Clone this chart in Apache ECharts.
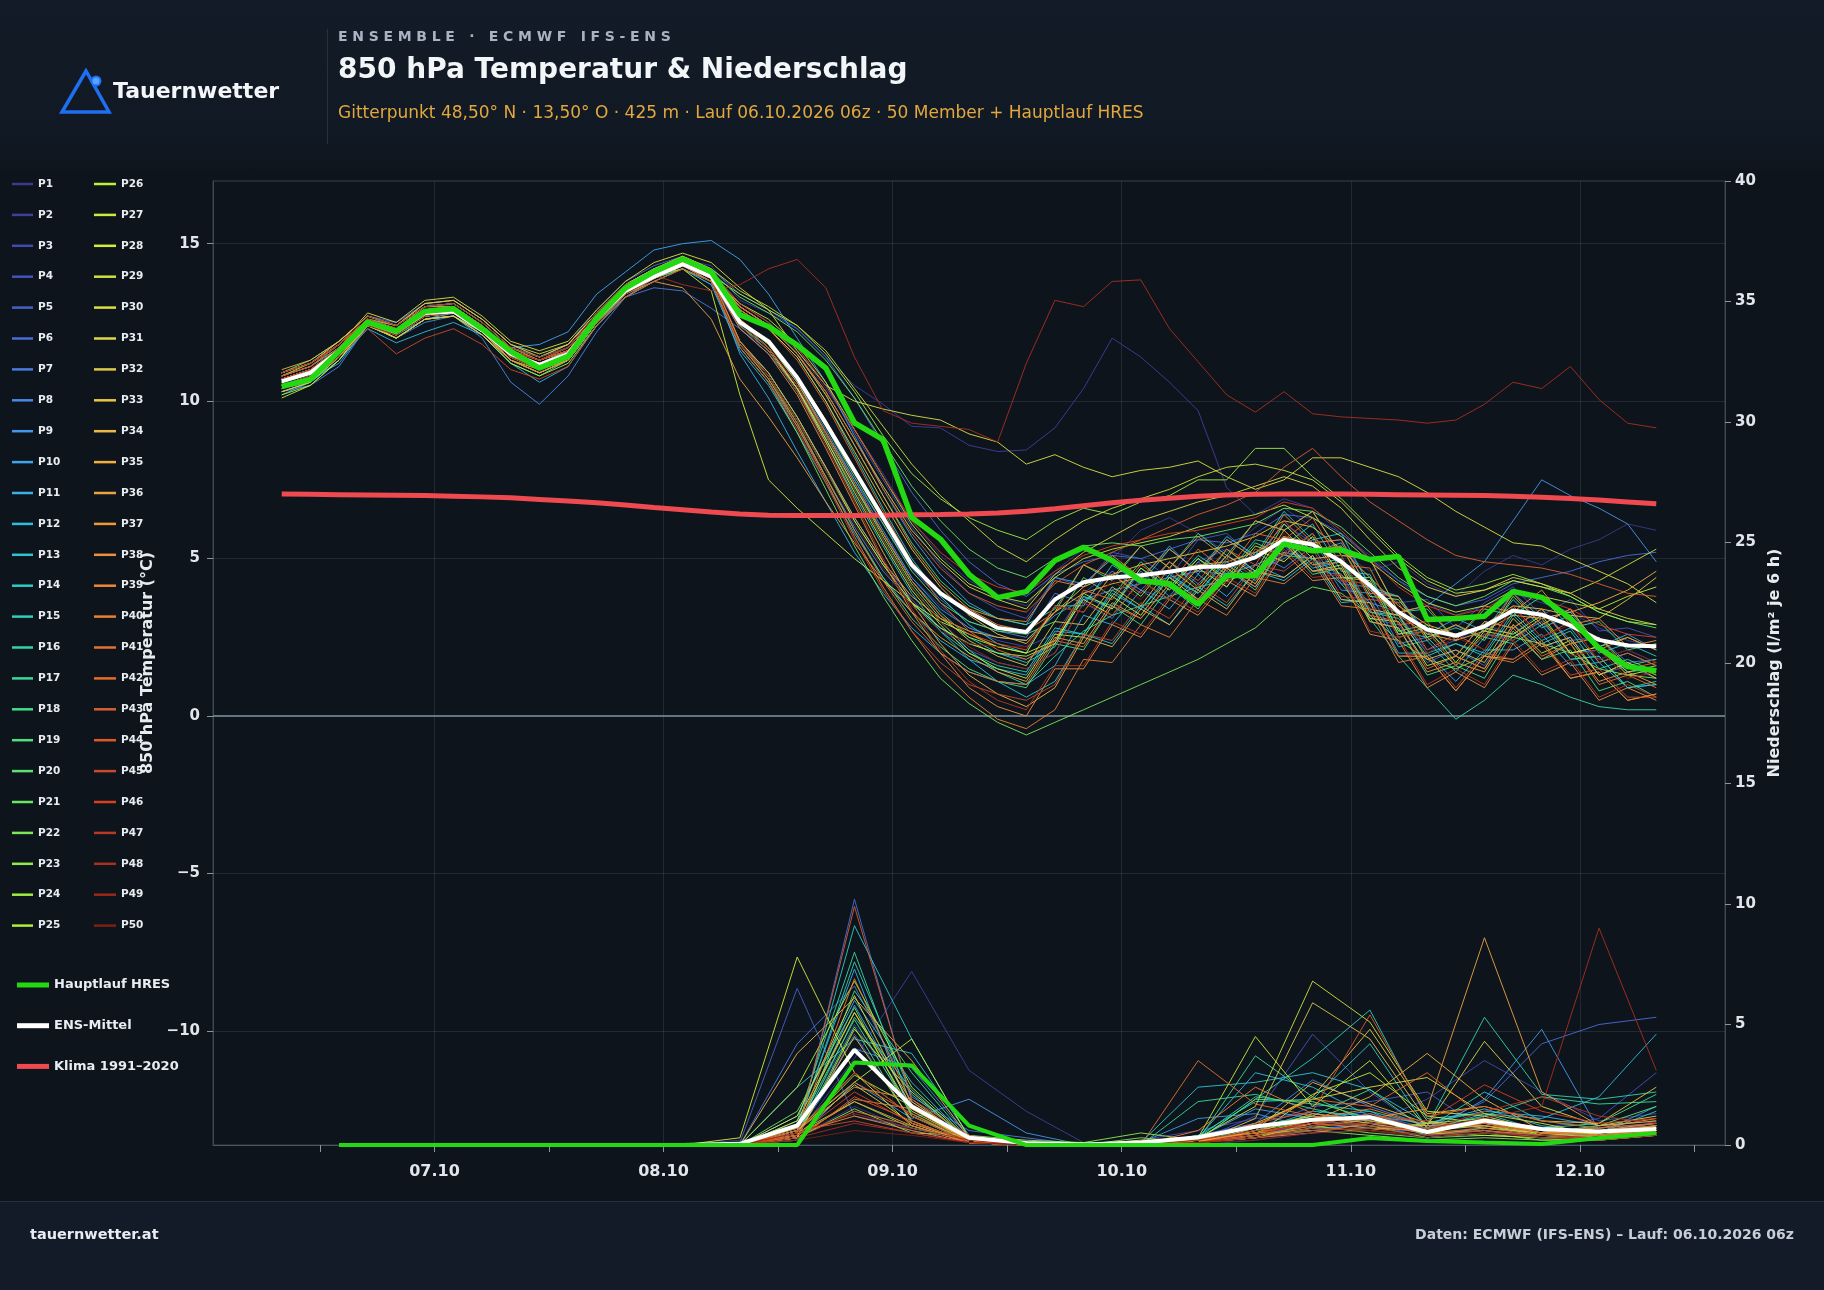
<!DOCTYPE html>
<html><head><meta charset="utf-8">
<script src="https://cdn.jsdelivr.net/npm/echarts@6/dist/echarts.min.js"></script>
<style>
html,body{margin:0;padding:0;background:#0e141b;}
#wrap{position:relative;width:1824px;height:1290px;overflow:hidden;font-family:'DejaVu Sans',sans-serif;}
.abs{position:absolute;white-space:nowrap;}
</style></head>
<body>
<div id="wrap">
  <div class="abs" style="left:0;top:0;width:1824px;height:178px;background:linear-gradient(to bottom,#121b27 0%,#111924 75%,#0e141b 100%);"></div>
  <div class="abs" style="left:0;top:1201px;width:1824px;height:89px;background:#121b27;border-top:1px solid #26313d;"></div>
  <div id="chart" class="abs" style="left:0;top:0;width:1824px;height:1290px;"></div>
  <svg class="abs" style="left:0;top:0;z-index:5" width="330" height="170">
    <polygon points="86,71 62,112 109,112" fill="none" stroke="#1f6ff2" stroke-width="3.5" stroke-linejoin="miter"/>
    <circle cx="96" cy="81" r="4.5" fill="#5aa2ff" stroke="#1f6ff2" stroke-width="2"/>
  </svg>
  <div class="abs" style="left:113px;top:78px;font-weight:bold;font-size:22px;line-height:26px;color:#f4f7fa;z-index:5">Tauernwetter</div>
  <div class="abs" style="left:327px;top:29px;width:1px;height:115px;background:#28323e;z-index:5"></div>
  <div class="abs" style="left:338px;top:27px;font-weight:bold;font-size:14px;line-height:18px;letter-spacing:4.7px;color:#a9b3c1;z-index:5">ENSEMBLE · ECMWF IFS-ENS</div>
  <div class="abs" style="left:338px;top:52px;font-weight:bold;font-size:28px;line-height:34px;color:#f3f6f9;z-index:5">850 hPa Temperatur &amp; Niederschlag</div>
  <div class="abs" style="left:338px;top:101px;font-size:17px;line-height:22px;color:#e2a83d;z-index:5">Gitterpunkt 48,50° N · 13,50° O · 425 m · Lauf 06.10.2026 06z · 50 Member + Hauptlauf HRES</div>
  <div class="abs" style="left:30px;top:1225px;font-weight:bold;font-size:14.5px;line-height:18px;color:#e9edf2;z-index:5">tauernwetter.at</div>
  <div class="abs" style="right:30px;top:1225px;font-weight:bold;font-size:14px;line-height:18px;color:#c7ced8;z-index:5">Daten: ECMWF (IFS-ENS) – Lauf: 06.10.2026 06z</div>
</div>
<script>
// ---- time axes (hours since 06.10. 00:00 local time) ----
const tempHours = [8,11,14,17,20,23,26,29,32,35,38,41,44,47,50,53,56,59,62,65,68,71,74,77,80,83,86,89,92,95,98,101,104,107,110,113,116,119,122,125,128,131,134,137,140,143,146,149,152];
const precipHours = [14,20,26,32,38,44,50,56,62,68,74,80,86,92,98,104,110,116,122,128,134,140,146,152];
const tickHours = [12,24,36,48,60,72,84,96,108,120,132,144,156];
const dayHours = [24,48,72,96,120,144];
const dayLabels = ['07.10','08.10','09.10','10.10','11.10','12.10'];
const tempTicks = [-10,-5,0,5,10,15];

// ---- key lines ----
const hresTemp = [10.47,10.69,11.58,12.51,12.22,12.85,12.93,12.30,11.58,11.05,11.42,12.64,13.59,14.11,14.51,14.11,12.74,12.37,11.78,11.05,9.31,8.78,6.31,5.62,4.50,3.76,3.95,4.94,5.36,4.94,4.30,4.20,3.55,4.46,4.46,5.47,5.25,5.28,4.97,5.07,3.07,3.10,3.17,3.96,3.77,3.10,2.16,1.57,1.44];
const meanTemp = [10.63,10.90,11.60,12.50,12.20,12.80,12.85,12.25,11.50,11.15,11.50,12.60,13.50,13.95,14.35,13.95,12.50,11.90,10.75,9.30,7.80,6.30,4.80,3.90,3.30,2.80,2.67,3.70,4.25,4.40,4.47,4.58,4.73,4.76,5.04,5.60,5.45,4.90,4.15,3.30,2.75,2.55,2.85,3.35,3.22,2.88,2.42,2.24,2.22];
const climTemp = [7.05,7.04,7.03,7.02,7.01,7.00,6.98,6.96,6.93,6.88,6.83,6.77,6.70,6.62,6.55,6.48,6.42,6.38,6.37,6.37,6.37,6.38,6.39,6.40,6.42,6.45,6.50,6.58,6.68,6.77,6.85,6.92,6.98,7.02,7.04,7.05,7.05,7.05,7.04,7.03,7.02,7.01,7.00,6.98,6.95,6.91,6.86,6.80,6.74];
const hresPrecip = [0,0,0,0,0,0,0,0,0,3.42,3.30,0.8,0,0,0,0,0,0,0.29,0.17,0.1,0.04,0.29,0.5];
const meanPrecip = [0,0,0,0,0,0,0,0.05,0.81,3.95,1.6,0.3,0.08,0.02,0.1,0.32,0.77,1.05,1.15,0.54,1.02,0.66,0.56,0.66];

// ---- ensemble members: temperature (49 steps) ----
const tempMembers = [
[10.9,11.2,11.8,12.6,12.4,13.1,13.0,12.4,11.6,11.3,11.6,12.7,13.6,14.1,14.5,14.0,13.0,12.4,11.6,10.4,9.1,7.7,6.2,5.1,4.3,3.8,3.5,4.6,5.3,5.0,5.9,6.3,5.8,5.2,6.0,6.6,6.0,5.2,4.6,4.9,4.2,3.8,4.6,5.1,4.8,5.3,5.6,6.1,5.9],
[10.8,11.1,11.7,12.6,12.5,13.0,13.1,12.5,11.7,11.3,11.7,12.8,13.7,14.2,14.5,14.3,13.2,12.8,12.3,11.4,10.5,9.9,9.2,9.15,8.6,8.4,8.45,9.15,10.4,12.0,11.4,10.6,9.7,7.25,6.4,6.9,6.6,5.8,5.1,4.3,3.6,3.2,3.5,3.9,3.6,3.3,2.8,2.4,2.2],
[10.5,10.8,11.5,12.5,12.1,12.7,12.8,12.2,11.4,11.0,11.4,12.5,13.4,13.9,14.3,13.8,12.3,11.6,10.4,8.9,7.3,5.8,4.4,3.5,2.8,2.4,2.2,2.6,3.9,4.6,4.0,3.7,4.9,5.3,4.6,5.2,5.8,4.3,3.4,3.2,2.1,2.4,2.9,2.6,3.3,2.4,1.8,2.1,1.7],
[10.7,11.0,11.7,12.6,12.3,12.9,13.0,12.4,11.6,11.2,11.6,12.7,13.6,14.1,14.4,14.1,13.1,12.5,11.7,10.5,9.0,7.5,6.0,4.8,3.9,3.4,3.1,4.4,4.1,5.2,5.0,4.4,5.6,5.8,5.0,6.1,5.5,5.6,4.2,3.6,3.7,2.8,3.6,4.1,3.2,3.7,2.7,2.8,2.5],
[10.4,10.7,11.4,12.4,12.0,12.6,12.8,12.1,11.3,10.9,11.3,12.4,13.3,13.8,14.2,13.7,11.8,10.9,9.5,7.9,6.3,4.9,3.7,2.8,2.1,1.7,1.5,2.0,3.6,3.1,4.4,4.6,3.7,4.6,4.1,5.4,4.6,4.5,3.1,2.9,1.7,2.1,1.6,2.9,2.2,2.5,1.3,1.6,1.2],
[10.9,11.2,11.9,12.7,12.5,13.1,13.2,12.6,11.8,11.4,11.8,12.9,13.8,14.3,14.6,14.2,13.4,12.9,12.3,11.4,10.1,8.6,7.1,5.9,4.9,4.2,3.8,4.5,4.9,5.1,5.0,5.3,5.6,5.5,5.8,6.4,6.3,5.8,5.0,4.3,3.8,3.5,3.7,4.2,4.4,4.6,4.9,5.1,5.2],
[10.6,10.9,11.5,12.4,12.1,12.7,12.8,12.2,11.4,11.1,11.4,12.6,13.3,13.6,13.5,12.95,12.3,11.5,10.4,9.0,7.5,6.1,4.7,3.7,3.0,2.7,2.5,3.9,3.6,4.6,4.0,4.9,4.2,5.1,4.6,5.0,5.6,4.2,4.1,2.6,2.7,1.9,3.0,2.8,3.4,2.4,2.5,1.7,1.8],
[10.3,10.5,11.1,12.4,12.0,12.5,12.7,12.0,10.6,9.9,10.8,12.2,13.3,13.9,14.3,13.8,11.7,10.6,9.2,7.6,6.0,4.6,3.6,2.8,2.3,2.0,1.8,2.3,3.8,3.4,4.6,3.8,4.9,4.1,5.2,4.7,5.4,4.0,3.9,2.3,2.5,1.6,2.6,2.5,3.0,2.0,2.1,1.4,1.5],
[10.8,11.1,11.8,12.6,12.3,12.9,13.0,12.4,11.6,11.3,11.7,12.8,13.6,14.1,14.4,14.0,12.6,11.8,10.6,9.1,7.5,5.9,4.4,3.4,2.8,2.5,2.4,3.2,3.7,4.0,4.2,4.4,4.6,4.5,4.8,5.2,5.0,4.5,3.6,3.3,3.5,4.2,4.9,6.2,7.5,7.0,6.6,6.1,4.9],
[10.5,10.7,11.2,12.4,12.0,12.6,12.8,12.3,11.7,11.8,12.2,13.4,14.1,14.8,15.0,15.1,14.5,13.4,12.0,10.6,8.9,7.2,5.7,4.5,3.6,3.1,2.9,4.4,4.2,5.0,4.3,5.4,4.5,5.6,5.0,6.1,5.2,5.5,4.0,3.8,2.6,3.1,2.7,3.9,3.1,3.3,2.2,2.6,2.1],
[10.2,10.6,11.3,12.5,12.1,12.6,12.7,12.2,11.3,10.9,11.3,12.5,13.4,13.9,14.3,13.9,11.5,10.1,8.4,6.8,5.2,3.9,2.8,2.0,1.4,1.1,1.0,1.6,3.2,2.9,4.0,3.4,4.5,3.8,4.8,4.4,5.1,3.7,3.6,2.0,2.0,1.1,2.1,2.1,2.6,1.6,1.7,0.9,1.0],
[10.4,10.6,11.3,12.3,11.85,12.2,12.5,12.1,11.2,10.6,11.1,12.4,13.4,13.9,14.2,13.7,11.6,10.5,9.0,7.4,5.8,4.4,3.3,2.4,1.8,1.5,1.3,2.7,2.6,3.9,3.4,4.4,3.9,4.9,4.3,5.6,4.7,4.9,3.3,3.2,2.0,2.3,2.0,3.3,2.4,2.8,1.7,2.0,1.6],
[10.6,10.9,11.6,12.5,12.2,12.8,12.9,12.3,11.5,11.1,11.5,12.6,13.5,14.0,14.3,13.9,12.4,11.6,10.3,8.7,7.0,5.4,3.9,2.7,1.8,1.1,0.6,1.1,2.6,2.3,3.5,2.9,4.1,3.5,4.6,4.3,5.0,3.6,3.7,2.2,2.4,1.4,2.5,2.3,2.9,1.8,1.9,0.9,1.0],
[10.9,11.2,11.8,12.6,12.4,13.0,13.1,12.5,11.7,11.4,11.7,12.7,13.6,14.1,14.5,14.1,12.9,12.3,11.4,10.0,8.3,6.6,5.0,3.8,2.9,2.3,2.0,3.5,3.5,4.8,4.2,5.3,4.6,5.7,5.1,6.5,5.6,5.8,4.1,3.8,2.5,2.8,2.5,3.7,2.8,3.2,2.0,2.3,1.9],
[10.3,10.6,11.4,12.5,12.1,12.7,12.8,12.2,11.4,11.0,11.4,12.6,13.5,14.0,14.4,14.0,12.5,11.7,10.5,8.9,7.3,5.8,4.3,3.3,2.5,2.0,1.7,2.2,3.8,3.5,4.7,4.1,5.1,4.5,5.6,5.4,6.1,4.6,4.5,2.7,2.5,1.6,2.6,2.4,3.1,1.8,1.9,0.9,1.1],
[10.7,11.0,11.6,12.5,12.2,12.7,12.8,12.3,11.5,11.2,11.5,12.6,13.5,13.9,14.3,13.9,11.9,10.9,9.5,7.9,6.2,4.8,3.6,2.7,2.0,1.6,1.4,2.8,2.6,4.0,3.4,4.5,3.9,5.0,4.4,5.7,4.8,5.0,3.3,3.1,1.9,2.3,1.9,3.2,2.3,2.7,1.5,1.8,1.4],
[10.5,10.8,11.5,12.5,12.1,12.7,12.8,12.3,11.4,11.0,11.4,12.5,13.4,13.9,14.3,13.9,12.4,11.7,10.4,8.8,7.2,5.6,4.1,3.0,2.1,1.4,1.0,1.9,2.7,3.2,3.5,3.8,4.1,4.3,4.6,5.1,5.0,4.2,3.1,1.9,0.9,-0.1,0.5,1.3,1.0,0.6,0.3,0.2,0.2],
[10.8,11.1,11.7,12.6,12.3,12.9,13.0,12.4,11.6,11.3,11.6,12.7,13.6,14.1,14.5,14.0,13.0,12.4,11.5,10.2,8.6,7.0,5.5,4.3,3.5,3.1,2.9,3.4,4.8,4.3,5.4,4.7,5.8,5.1,6.2,5.9,6.5,5.1,5.0,3.3,3.4,2.4,3.4,3.2,3.8,2.8,3.0,2.1,2.3],
[10.4,10.7,11.4,12.4,12.0,12.6,12.7,12.1,11.2,10.8,11.3,12.5,13.4,13.9,14.2,13.8,11.8,10.7,9.3,7.6,5.9,4.4,3.1,2.2,1.5,1.1,0.9,2.3,2.1,3.5,2.9,4.1,3.4,4.7,4.0,5.5,4.5,4.7,3.0,2.8,1.3,1.6,1.2,2.7,1.8,2.1,0.8,1.1,0.6],
[10.6,10.9,11.6,12.5,12.2,12.8,12.9,12.3,11.5,11.2,11.5,12.6,13.5,14.0,14.4,14.0,12.5,11.8,10.7,9.2,7.6,6.1,4.6,3.6,3.0,2.7,2.6,3.0,4.4,3.8,4.9,4.1,5.0,4.4,5.5,5.1,5.8,4.4,4.4,2.7,2.9,1.9,3.0,2.8,3.4,2.3,2.5,1.6,1.8],
[10.9,11.3,11.9,12.7,12.4,13.0,13.1,12.5,11.7,11.4,11.8,12.8,13.7,14.2,14.5,14.1,13.3,12.8,12.2,11.3,10.1,8.7,7.3,6.2,5.3,4.7,4.4,5.0,5.4,5.5,5.4,5.6,5.7,5.9,6.1,6.6,6.5,6.0,5.2,4.4,3.8,3.5,3.8,4.3,4.1,3.8,3.3,3.0,2.8],
[10.5,10.8,11.5,12.4,12.1,12.7,12.8,12.2,11.4,11.0,11.4,12.5,13.4,13.9,14.3,13.9,11.7,10.6,9.0,7.2,5.4,3.8,2.4,1.2,0.4,-0.2,-0.6,-0.2,0.2,0.6,1.0,1.4,1.8,2.3,2.8,3.6,4.1,3.9,3.2,2.4,1.8,1.5,1.9,2.5,2.3,2.0,1.5,1.3,1.2],
[10.7,11.0,11.7,12.6,12.3,12.9,12.9,12.3,11.5,11.2,11.6,12.7,13.5,14.0,14.4,14.0,12.4,11.6,10.4,8.9,7.3,5.7,4.2,3.1,2.5,2.2,2.0,3.5,3.3,4.5,3.8,4.9,4.1,5.3,4.6,6.1,5.2,5.4,3.8,3.7,2.5,2.9,2.4,3.8,2.9,3.4,2.2,2.5,2.1],
[10.6,10.9,11.6,12.5,12.2,12.8,12.9,12.3,11.5,11.2,11.5,12.6,13.5,14.0,14.4,14.0,13.4,12.9,12.4,11.5,10.3,8.9,7.7,6.9,6.3,5.9,5.6,6.2,6.6,6.4,6.8,7.0,7.5,7.5,8.5,8.5,7.6,6.9,6.0,5.1,4.4,4.0,4.2,4.5,4.2,3.8,3.3,3.0,2.9],
[10.2,10.5,11.3,12.4,12.0,12.6,12.7,12.1,11.2,10.8,11.2,12.4,13.3,13.8,14.2,13.8,11.8,10.8,9.4,7.8,6.2,4.8,3.6,2.8,2.3,2.0,1.9,2.3,3.9,3.4,4.7,4.0,5.0,4.3,5.4,5.1,5.8,4.4,4.3,2.6,2.8,1.7,2.8,2.6,3.2,2.0,2.2,1.4,1.6],
[10.1,10.5,11.3,12.5,12.0,12.6,12.7,12.2,11.3,10.9,11.3,12.5,13.4,13.9,14.3,13.9,13.1,12.6,11.8,10.6,9.1,7.6,6.1,5.0,4.2,3.8,3.6,4.4,5.0,5.3,5.5,5.7,6.0,6.2,6.4,6.7,6.3,5.7,4.9,4.2,3.6,3.3,3.5,4.0,3.8,3.6,3.4,3.8,4.1],
[10.6,10.9,11.6,12.6,12.2,12.8,12.9,12.3,11.5,11.1,11.5,12.6,13.5,14.0,14.4,14.0,12.5,11.7,10.4,8.8,7.1,5.5,4.0,2.9,2.0,1.5,1.2,2.6,2.5,3.8,3.2,4.4,3.7,4.8,4.2,5.6,4.6,4.8,3.1,3.0,1.6,1.9,1.5,2.9,2.0,2.4,1.3,1.7,1.3],
[10.3,10.6,11.4,12.5,12.1,12.7,12.8,12.2,11.4,11.1,11.5,12.6,13.5,14.0,14.2,13.5,10.2,7.5,6.6,5.8,5.0,4.3,3.6,3.0,2.6,2.2,2.0,2.4,3.7,3.2,4.3,3.7,4.7,4.1,5.3,4.9,5.7,4.3,4.2,2.5,2.7,1.6,2.7,2.5,3.1,2.0,2.2,1.3,1.5],
[10.8,11.2,11.9,12.7,12.4,13.1,13.2,12.6,11.8,11.5,11.8,12.8,13.7,14.2,14.6,14.2,13.5,13.0,12.4,11.6,10.4,9.2,8.0,7.0,6.2,5.4,4.9,5.6,6.2,6.6,6.9,7.2,7.6,7.9,8.0,7.8,7.5,6.8,5.9,5.0,4.3,3.9,4.0,4.3,4.1,3.9,4.3,4.8,5.3],
[10.9,11.2,11.8,12.8,12.5,13.2,13.3,12.7,11.9,11.6,11.9,12.9,13.8,14.4,14.7,14.4,13.6,12.9,11.6,10.5,10.0,9.75,9.55,9.4,8.96,8.7,8.0,8.3,7.9,7.6,7.8,7.9,8.1,7.6,7.2,7.5,8.2,8.2,7.9,7.6,7.1,6.5,6.0,5.5,5.4,5.0,4.6,4.2,3.6],
[10.4,10.7,11.5,12.5,12.1,12.7,12.8,12.2,11.3,11.0,11.3,12.5,13.5,14.0,14.4,14.0,13.0,12.4,11.5,10.3,8.8,7.3,5.9,4.9,4.1,3.7,3.4,4.5,5.2,5.7,6.2,6.5,6.8,7.0,7.3,7.6,7.3,6.6,5.6,4.7,4.1,3.8,4.0,4.4,4.2,3.9,3.4,3.1,2.9],
[10.7,11.0,11.7,12.6,12.3,13.0,13.0,12.4,11.6,11.3,11.6,12.7,13.6,14.1,14.5,14.1,12.6,11.8,10.6,9.0,7.4,5.8,4.3,3.2,2.4,1.9,1.6,3.0,2.9,4.1,3.5,4.7,4.0,5.1,4.5,5.9,5.0,5.1,3.4,3.2,1.8,2.1,1.7,3.1,2.2,2.5,1.3,1.7,1.2],
[10.6,10.9,11.6,12.5,12.2,12.8,12.9,12.3,11.5,11.2,11.5,12.6,13.5,14.0,14.4,14.0,12.9,12.3,11.4,10.0,8.4,6.8,5.3,4.1,3.2,2.6,2.3,3.3,4.1,4.5,4.8,5.0,5.2,5.4,5.7,6.2,6.0,5.3,4.4,3.5,2.9,2.6,2.9,3.5,3.4,3.2,3.1,3.7,4.4],
[11.0,11.3,11.9,12.7,12.4,13.1,13.2,12.6,11.8,11.4,11.8,12.8,13.7,14.2,14.6,14.2,12.5,11.7,10.4,8.7,6.9,5.2,3.6,2.3,1.3,0.7,0.3,0.9,2.5,2.2,3.4,2.9,4.0,3.4,4.6,4.4,5.1,3.7,3.6,1.9,1.9,0.8,1.9,1.8,2.4,1.2,1.4,0.5,0.7],
[10.3,10.6,11.4,12.4,12.0,12.6,12.7,12.1,11.3,10.9,11.3,12.5,13.4,13.9,14.3,13.9,11.9,10.9,9.5,7.9,6.3,4.9,3.8,3.1,2.7,2.5,2.4,3.3,3.9,4.2,4.4,4.6,4.8,4.9,5.2,5.7,5.5,4.9,4.0,3.2,2.6,2.4,2.7,3.2,3.1,3.3,3.6,4.0,4.6],
[10.7,11.0,11.6,12.5,12.2,12.8,12.9,12.3,11.5,11.1,11.5,12.6,13.4,13.8,13.6,12.6,10.7,9.5,8.2,6.8,5.5,4.3,3.3,2.5,1.9,1.4,1.1,2.5,2.3,3.6,3.1,4.2,3.6,4.7,4.1,5.5,4.6,4.7,3.0,2.8,1.4,1.7,1.4,2.8,1.8,2.3,1.1,1.4,1.0],
[10.9,11.2,11.8,12.6,12.4,13.0,13.1,12.5,11.7,11.3,11.7,12.7,13.6,14.1,14.5,14.1,13.0,12.4,11.5,10.2,8.6,7.0,5.4,4.2,3.4,2.9,2.7,3.3,4.8,4.4,5.4,4.7,5.7,5.0,6.2,5.9,6.5,5.1,5.0,3.3,3.5,2.4,3.5,3.3,4.0,2.9,3.1,2.2,2.4],
[10.5,10.8,11.5,12.4,12.1,12.7,12.8,12.2,11.4,11.0,11.4,12.5,13.4,13.9,14.3,13.9,12.3,11.5,10.2,8.5,6.7,4.9,3.3,2.0,0.9,0.3,0.0,1.5,1.5,2.9,2.5,3.7,3.2,4.3,3.8,5.2,4.3,4.4,2.6,2.4,0.9,1.4,0.9,2.3,1.3,1.7,0.5,0.9,0.5],
[10.8,11.1,11.8,12.6,12.3,12.9,13.0,12.4,11.6,11.3,11.6,12.7,13.6,14.1,14.4,14.0,12.6,11.9,10.8,9.4,7.8,6.3,4.9,3.9,3.4,3.1,3.0,4.3,4.1,5.1,4.4,5.3,4.6,5.6,5.0,6.4,5.5,5.6,3.9,3.8,2.4,2.9,2.5,3.9,2.9,3.4,2.1,2.5,2.1],
[10.4,10.7,11.4,12.5,12.1,12.7,12.8,12.2,11.3,10.9,11.3,12.5,13.4,13.9,14.3,13.8,11.8,10.7,9.2,7.5,5.7,4.1,2.7,1.5,0.6,-0.1,-0.4,0.2,1.8,1.7,2.9,2.5,3.7,3.2,4.4,4.2,4.9,3.5,3.4,1.7,1.9,0.8,1.9,1.7,2.3,1.2,1.4,0.5,0.7],
[10.6,10.9,11.6,12.5,12.2,12.8,12.9,12.3,11.5,11.2,11.5,12.6,13.5,14.0,14.4,14.0,11.9,10.8,9.3,7.6,5.9,4.3,3.0,2.0,1.4,1.1,1.0,2.4,2.2,3.5,3.1,4.2,3.7,4.8,4.2,5.7,4.8,4.9,3.2,3.0,1.5,1.9,1.5,2.9,1.9,2.3,1.0,1.3,0.9],
[10.9,11.2,11.8,12.6,12.3,12.9,13.0,12.4,11.6,11.3,11.6,12.7,13.6,14.1,14.5,14.1,12.9,12.3,11.3,9.9,8.2,6.5,4.9,3.6,2.7,2.1,1.8,2.4,4.0,3.7,4.8,4.2,5.3,4.6,5.8,5.6,6.3,4.8,4.7,2.9,3.0,1.9,3.0,2.8,3.4,2.3,2.5,1.5,1.7],
[10.5,10.8,11.5,12.5,12.1,12.7,12.8,12.2,11.4,11.1,11.4,12.5,13.4,13.9,14.3,13.9,13.0,12.4,11.5,10.3,8.8,7.2,5.8,4.7,3.9,3.5,3.3,4.2,4.8,5.2,5.6,6.0,6.4,6.7,7.1,7.9,8.5,7.6,6.8,6.2,5.6,5.1,4.9,4.8,4.7,4.5,4.2,3.9,3.8],
[10.7,11.0,11.7,12.6,12.2,12.8,12.9,12.3,11.5,11.2,11.5,12.6,13.5,14.0,14.4,14.0,12.5,11.7,10.5,9.0,7.4,5.8,4.3,3.2,2.6,2.3,2.1,3.5,3.3,4.5,3.9,4.9,4.3,5.3,4.8,6.2,5.3,5.4,3.7,3.6,2.1,2.6,2.1,3.5,2.5,3.0,1.7,2.0,1.6],
[10.4,10.7,11.4,12.3,11.5,12.0,12.3,11.8,11.0,10.7,11.1,12.4,13.3,13.8,14.2,13.8,11.7,10.6,9.1,7.4,5.6,4.0,2.7,1.7,1.0,0.7,0.5,1.0,2.6,2.4,3.6,3.1,4.2,3.6,4.8,4.6,5.3,3.8,3.7,1.9,2.0,0.9,2.0,1.8,2.4,1.3,1.5,0.6,0.6],
[10.8,11.1,11.8,12.6,12.3,12.9,13.0,12.4,11.6,11.3,11.6,12.7,13.6,14.1,14.5,14.1,13.1,12.5,11.7,10.5,9.1,7.6,6.2,5.2,4.5,4.1,3.9,4.6,5.1,5.4,5.6,5.8,5.9,6.1,6.3,6.8,6.6,5.9,5.0,4.1,3.5,3.2,3.4,3.9,3.7,3.4,2.9,2.6,2.5],
[10.6,10.9,11.6,12.5,12.2,12.8,12.9,12.3,11.5,11.1,11.5,12.6,13.5,14.0,14.3,13.9,12.4,11.6,10.3,8.6,6.8,5.0,3.4,2.1,1.1,0.5,0.2,1.6,1.6,3.0,2.6,3.8,3.3,4.4,3.9,5.3,4.4,4.5,2.7,2.5,1.0,1.5,1.0,2.4,1.4,1.8,0.6,1.0,0.6],
[10.7,11.0,11.7,12.6,12.3,12.9,13.0,12.4,11.6,11.3,11.7,12.8,13.7,14.0,13.7,13.5,13.7,14.2,14.5,13.6,11.4,9.7,9.3,9.2,9.1,8.7,11.2,13.2,13.0,13.8,13.85,12.3,11.25,10.2,9.65,10.3,9.6,9.5,9.45,9.4,9.3,9.4,9.9,10.6,10.4,11.1,10.05,9.3,9.15],
[10.9,11.2,11.8,12.7,12.4,13.0,13.1,12.5,11.7,11.4,11.7,12.8,13.7,14.1,14.5,14.1,12.5,11.7,10.5,8.9,7.2,5.6,4.1,3.0,2.2,1.7,1.5,2.0,3.6,3.2,4.3,3.7,4.8,4.2,5.3,5.1,5.8,4.3,4.2,2.5,2.7,1.6,2.6,2.4,3.1,1.9,2.1,1.2,1.4],
[10.5,10.8,11.5,12.4,12.1,12.7,12.8,12.2,11.4,11.0,11.4,12.5,13.4,13.9,14.3,13.9,11.8,10.8,9.4,7.8,6.1,4.7,3.5,2.7,2.3,2.2,2.2,3.5,3.3,4.3,3.7,4.7,4.1,5.0,4.4,5.8,4.9,5.1,3.4,3.4,2.0,2.5,2.1,3.4,2.5,2.9,1.8,2.1,1.7]
];

// ---- ensemble members: precipitation per 6 h (24 steps) ----
const precipMembers = [
[0,0,0,0,0,0,0,0,0.3,1.6,0.6,0.2,0,0,0,0.1,0.3,0.8,1.1,0.4,1.2,0.6,0.5,0.9],
[0,0,0,0,0,0,0,0.2,0.4,3.6,7.2,3.1,1.4,0.1,0,0,0.2,0.5,0.6,0.3,0.8,0.5,0.4,0.7],
[0,0,0,0,0,0,0,0,0.6,5.0,1.5,0.4,0,0,0.2,0.6,1.1,1.3,0.9,1.9,3.5,2.2,1.0,1.3],
[0,0,0,0,0,0,0,0,0.4,4.6,1.0,0.1,0,0,0,0.2,1.2,4.6,2.2,0.6,0.9,0.7,1.1,3.0],
[0,0,0,0,0,0,0,0.1,6.5,1.2,0.7,0.2,0,0,0,0.3,0.7,1.6,1.8,2.2,0.6,0.3,0.2,0.4],
[0,0,0,0,0,0,0,0,0.3,10.2,1.8,0.3,0,0,0.1,0.2,0.4,0.9,1.3,0.7,1.8,4.2,5.0,5.3],
[0,0,0,0,0,0,0,0,4.2,6.6,2.0,0.6,0.3,0,0,0.1,0.3,0.6,0.9,0.3,0.5,0.4,0.3,0.5],
[0,0,0,0,0,0,0,0,0.5,4.0,3.2,0.3,0,0,0,0.4,0.9,2.7,1.6,0.8,1.0,0.6,0.4,0.6],
[0,0,0,0,0,0,0,0,0.2,2.6,1.1,1.9,0.5,0,0.1,1.1,1.3,0.7,0.8,0.5,1.9,4.8,0.6,0.9],
[0,0,0,0,0,0,0,0,0.6,5.8,1.6,0.2,0,0,0,0.3,1.5,1.1,1.4,0.4,0.6,0.3,0.5,1.6],
[0,0,0,0,0,0,0,0,0.8,7.3,1.2,0.1,0,0,0,0.2,0.6,1.4,1.2,0.9,1.4,1.2,0.8,1.0],
[0,0,0,0,0,0,0,0,1.2,6.0,2.6,0.2,0,0,0,0.3,3.0,2.4,1.2,0.6,1.3,1.1,2.0,4.6],
[0,0,0,0,0,0,0,0,2.4,4.4,3.8,0.4,0,0,0.1,2.4,2.6,3.0,2.3,0.9,1.5,0.8,0.5,1.4],
[0,0,0,0,0,0,0,0,0.6,9.1,4.4,0.3,0,0,0,0.4,1.8,1.9,4.2,0.7,2.2,1.0,0.7,0.9],
[0,0,0,0,0,0,0,0,0.7,7.6,2.1,0.2,0,0,0,0.2,1.9,3.6,5.6,1.1,1.3,0.6,0.3,0.8],
[0,0,0,0,0,0,0,0,0.4,5.3,2.3,0.1,0,0,0,0.3,2.0,1.7,1.4,0.8,5.3,2.1,1.9,2.2],
[0,0,0,0,0,0,0,0,1.0,8.0,1.6,0.3,0,0,0,1.8,2.1,1.5,1.0,0.7,1.2,2.0,1.7,1.8],
[0,0,0,0,0,0,0,0,0.3,6.4,3.0,0.2,0,0,0,0.2,3.7,2.0,0.9,0.5,1.1,0.7,0.9,2.1],
[0,0,0,0,0,0,0,0,0.7,5.2,1.3,0.1,0,0,0,0.1,0.8,1.2,2.3,0.6,0.9,0.5,0.6,0.8],
[0,0,0,0,0,0,0,0,0.4,4.9,0.9,0.2,0,0,0,0.2,1.9,1.8,1.1,0.4,0.7,0.5,0.8,1.6],
[0,0,0,0,0,0,0,0,1.4,5.7,1.2,0.1,0,0,0,0.1,0.6,1.0,0.8,0.3,0.4,0.3,0.4,0.6],
[0,0,0,0,0,0,0,0,0.5,1.8,0.7,0.2,0.1,0,0.3,0.1,0.4,0.8,0.5,0.3,0.5,0.2,0.3,0.5],
[0,0,0,0,0,0,0,0,0.3,1.5,0.5,0.4,0.2,0.1,0.5,0.2,0.5,0.6,0.4,0.2,0.3,0.2,0.2,0.4],
[0,0,0,0,0,0,0,0,0.5,2.9,1.6,0.1,0,0,0,0.1,0.3,0.7,0.6,0.9,1.1,0.4,0.5,0.7],
[0,0,0,0,0,0,0,0,2.4,6.8,2.4,0.2,0,0,0,0.2,0.5,1.3,1.0,0.6,0.8,0.4,0.3,0.5],
[0,0,0,0,0,0,0,0,0.6,2.6,4.4,0.3,0,0,0,0.1,0.4,2.1,3.0,1.2,0.9,0.6,0.5,0.6],
[0,0,0,0,0,0,0,0,1.0,5.5,1.4,0.2,0,0,0.1,0.3,4.5,1.6,3.5,0.7,1.0,0.5,0.4,0.8],
[0,0,0,0,0,0,0,0.3,7.8,3.0,0.8,0.1,0,0,0,0.1,0.3,0.9,1.2,0.5,0.4,0.3,0.2,0.4],
[0,0,0,0,0,0,0,0,0.3,4.8,2.2,0.2,0,0,0,0.3,1.6,6.8,5.1,1.4,1.2,0.6,0.5,0.7],
[0,0,0,0,0,0,0,0,0.4,2.5,0.9,0.1,0,0,0.2,0.2,0.9,1.9,2.4,2.8,1.3,0.9,0.4,0.6],
[0,0,0,0,0,0,0,0,1.2,6.2,1.5,0.2,0,0,0,0.1,0.7,1.2,0.9,0.8,4.3,1.6,0.8,1.2],
[0,0,0,0,0,0,0,0,0.4,4.5,1.0,0.1,0,0,0,0.1,1.1,5.9,4.4,1.0,0.7,0.5,0.3,0.6],
[0,0,0,0,0,0,0,0,0.8,5.5,1.8,0.2,0,0,0,0.2,0.8,2.0,4.8,1.3,1.6,1.0,0.9,2.4],
[0,0,0,0,0,0,0,0,3.8,6.1,3.5,0.3,0,0,0,0.1,0.6,2.6,1.7,0.9,0.8,0.5,0.4,0.5],
[0,0,0,0,0,0,0,0,0.6,3.0,1.2,0.2,0,0,0,0.2,0.5,1.0,2.0,3.8,1.9,0.6,0.5,0.8],
[0,0,0,0,0,0,0,0,0.4,1.8,0.8,0.1,0,0,0,0.1,0.4,0.7,1.1,1.5,8.6,2.2,0.8,1.0],
[0,0,0,0,0,0,0,0,0.6,2.4,1.9,0.2,0,0,0,0.2,0.5,0.9,0.7,0.6,1.0,0.6,0.7,1.1],
[0,0,0,0,0,0,0,0,0.5,1.2,0.6,0.1,0,0,0,0.1,0.3,0.5,0.9,0.5,0.6,0.4,0.3,0.5],
[0,0,0,0,0,0,0,0,0.3,1.9,1.5,0.2,0,0,0,0.1,0.6,1.1,1.5,0.8,0.9,0.5,0.6,0.9],
[0,0,0,0,0,0,0,0,0.5,6.9,1.7,0.3,0,0,0,0.6,2.4,1.3,1.0,0.7,0.8,0.6,0.4,0.7],
[0,0,0,0,0,0,0,0,0.3,1.4,0.8,0.1,0,0,0,3.5,1.7,1.2,0.8,0.5,0.7,0.4,0.3,0.4],
[0,0,0,0,0,0,0,0,0.7,2.6,1.3,0.2,0,0,0,0.2,0.8,1.9,1.6,3.0,1.1,0.7,0.6,0.8],
[0,0,0,0,0,0,0,0,0.4,9.9,1.9,0.4,0,0,0,0.1,0.4,0.8,1.3,0.6,0.9,0.5,0.4,0.6],
[0,0,0,0,0,0,0,0,0.2,2.0,1.0,0.1,0,0,0,0.2,0.9,1.4,5.4,1.2,1.6,1.0,0.7,0.9],
[0,0,0,0,0,0,0,0,0.6,1.0,0.5,0.1,0,0,0,0.1,0.3,0.6,0.7,0.4,0.6,0.3,0.3,0.4],
[0,0,0,0,0,0,0,0,0.4,2.2,0.9,0.2,0,0,0,0.1,0.5,0.9,1.2,1.0,2.5,1.4,0.9,1.1],
[0,0,0,0,0,0,0,0,0.5,3.0,1.2,0.1,0,0,0,0.1,0.4,1.0,0.8,0.6,1.4,2.0,1.2,0.9],
[0,0,0,0,0,0,0,0,0.3,0.9,0.5,0.1,0,0,0,0.2,0.6,0.8,0.9,0.7,1.1,1.6,9.0,3.1],
[0,0,0,0,0,0,0,0,0.5,1.3,0.7,0.2,0,0,0,0.1,0.3,0.7,0.6,0.4,0.5,0.4,0.3,0.5],
[0,0,0,0,0,0,0,0,0.2,0.6,0.4,0.1,0,0,0,0.1,0.2,0.5,0.6,0.3,0.5,0.3,0.2,0.4]
];

const memberColors = ['#3b3a8c','#3f3f9c','#4449ad','#4653bb','#4760c8','#4a6dd5','#4a7ade','#4888e6','#4597ea','#3fa5ec','#39b1e6','#33bbdd','#2fc4d2','#2ccbc6','#2dd0b9','#31d4aa','#39d89c','#42dc8d','#4edf7e','#5be370','#6ae663','#7be857','#8deb4c','#a0ec42','#b0ee3d','#bff03c','#c8ee3c','#d2ee38','#cde23e','#dbe042','#dcd84a','#dcc84a','#e9c640','#ebb948','#f1b040','#eba242','#f09838','#eb9040','#f08838','#ea8030','#e27232','#e86c28','#d86030','#e05828','#cb4a2a','#d84020','#b83820','#a83020','#9c2818','#7c2016'];
const memberNames = memberColors.map((c, i) => 'P' + (i + 1));

const FONT = 'DejaVu Sans';
const HRES = 'Hauptlauf HRES', MEAN = 'ENS-Mittel', CLIM = 'Klima 1991–2020';

const pairs = (xs, ys) => xs.map((x, i) => [x, ys[i]]);
const series = [];
series.push({
  type: 'line', name: '_grid', data: [], xAxisIndex: 0, yAxisIndex: 0, silent: true,
  markLine: {
    silent: true, z: 1, symbol: ['none', 'none'], label: { show: false }, animation: false,
    lineStyle: { color: 'rgba(150,170,195,0.15)', width: 1, type: 'solid' },
    emphasis: { disabled: true },
    data: [
      ...tempTicks.filter(v => v !== 0).map(v => ({ yAxis: v })),
      ...dayHours.map(h => ({ xAxis: h })),
      { yAxis: 0, lineStyle: { color: '#7d97a3', width: 1.6, type: 'solid' } }
    ]
  }
});
memberNames.forEach((name, j) => {
  series.push({
    name, type: 'line', xAxisIndex: 0, yAxisIndex: 1, z: 2, silent: true, symbol: 'none',
    data: pairs(precipHours, precipMembers[j]),
    lineStyle: { width: 1, color: memberColors[j], opacity: 0.9 },
    itemStyle: { color: memberColors[j] }
  });
});
memberNames.forEach((name, j) => {
  series.push({
    name, type: 'line', xAxisIndex: 0, yAxisIndex: 0, z: 2, silent: true, symbol: 'none',
    data: pairs(tempHours, tempMembers[j]),
    lineStyle: { width: 1, color: memberColors[j], opacity: 0.9 },
    itemStyle: { color: memberColors[j] }
  });
});
series.push({ name: CLIM, type: 'line', yAxisIndex: 0, z: 3, silent: true, symbol: 'none',
  data: pairs(tempHours, climTemp), lineStyle: { width: 5, color: '#ef4a50' }, itemStyle: { color: '#ef4a50' } });
series.push({ name: MEAN, type: 'line', yAxisIndex: 1, z: 4, silent: true, symbol: 'none',
  data: pairs(precipHours, meanPrecip), lineStyle: { width: 4, color: '#ffffff' }, itemStyle: { color: '#ffffff' } });
series.push({ name: MEAN, type: 'line', yAxisIndex: 0, z: 4, silent: true, symbol: 'none',
  data: pairs(tempHours, meanTemp), lineStyle: { width: 4, color: '#ffffff' }, itemStyle: { color: '#ffffff' } });
series.push({ name: HRES, type: 'line', yAxisIndex: 1, z: 5, silent: true, symbol: 'none',
  data: pairs(precipHours, hresPrecip), lineStyle: { width: 4, color: '#22d912' }, itemStyle: { color: '#22d912' } });
series.push({ name: HRES, type: 'line', yAxisIndex: 0, z: 5, silent: true, symbol: 'none',
  data: pairs(tempHours, hresTemp), lineStyle: { width: 5.5, color: '#22d912' }, itemStyle: { color: '#22d912' } });

const legendText = { color: '#e8edf2', fontSize: 10.5, fontWeight: 'bold', fontFamily: FONT, lineHeight: 14 };
const axisLabelStyle = { color: '#e1e6ec', fontSize: 15, fontWeight: 'bold', fontFamily: FONT };
const axisNameStyle = { color: '#e6ebf0', fontSize: 16, fontWeight: 'bold', fontFamily: FONT };

const chart = echarts.init(document.getElementById('chart'), null, { renderer: 'canvas' });
chart.setOption({
  backgroundColor: 'transparent',
  animation: false,
  textStyle: { fontFamily: FONT },
  grid: { left: 213, right: 99, top: 181, bottom: 145, show: true, borderColor: '#36414d', borderWidth: 1, backgroundColor: 'transparent' },
  legend: [
    { data: memberNames.slice(0, 25), orient: 'vertical', left: 12, top: 177, padding: 0, icon: 'rect',
      itemWidth: 21, itemHeight: 2.5, itemGap: 16.9, selectedMode: false, textStyle: legendText },
    { data: memberNames.slice(25), orient: 'vertical', left: 94, top: 177, padding: 0, icon: 'rect',
      itemWidth: 22, itemHeight: 2.5, itemGap: 16.9, selectedMode: false, textStyle: legendText },
    { data: [HRES, MEAN, CLIM], orient: 'vertical', left: 17, top: 978, padding: 0, icon: 'rect',
      itemWidth: 32, itemHeight: 5, itemGap: 26.7, selectedMode: false,
      textStyle: Object.assign({}, legendText, { fontSize: 13 }) }
  ],
  xAxis: {
    type: 'value', min: 0.8, max: 159.2,
    axisLine: { show: true, onZero: false, lineStyle: { color: '#4a5562', width: 1 } },
    axisTick: { show: true, customValues: tickHours, length: 7, lineStyle: { color: '#8a96a4' } },
    axisLabel: { customValues: dayHours, margin: 19, formatter: v => dayLabels[dayHours.indexOf(v)] || '',
      color: '#e1e6ec', fontSize: 16, fontWeight: 'bold', fontFamily: FONT },
    splitLine: { show: false }
  },
  yAxis: [
    { type: 'value', min: -13.62, max: 16.99, position: 'left',
      name: '850 hPa Temperatur (°C)', nameLocation: 'middle', nameGap: 56, nameRotate: 90, nameTextStyle: axisNameStyle,
      axisLine: { show: true, onZero: false, lineStyle: { color: '#3d4856' } },
      axisTick: { show: true, customValues: tempTicks, length: 6, lineStyle: { color: '#8a96a4' } },
      axisLabel: Object.assign({ customValues: tempTicks, margin: 13,
        formatter: v => (v < 0 ? '\u2212' + Math.abs(v) : String(v)) }, axisLabelStyle),
      splitLine: { show: false } },
    { type: 'value', min: 0, max: 40, interval: 5, position: 'right',
      name: 'Niederschlag (l/m² je 6 h)', nameLocation: 'middle', nameGap: 37, nameRotate: 90, nameTextStyle: axisNameStyle,
      axisLine: { show: true, onZero: false, lineStyle: { color: '#3d4856' } },
      axisTick: { show: true, length: 6, lineStyle: { color: '#8a96a4' } },
      axisLabel: Object.assign({ margin: 10 }, axisLabelStyle),
      splitLine: { show: false } }
  ],
  series
});
</script>
</body></html>
